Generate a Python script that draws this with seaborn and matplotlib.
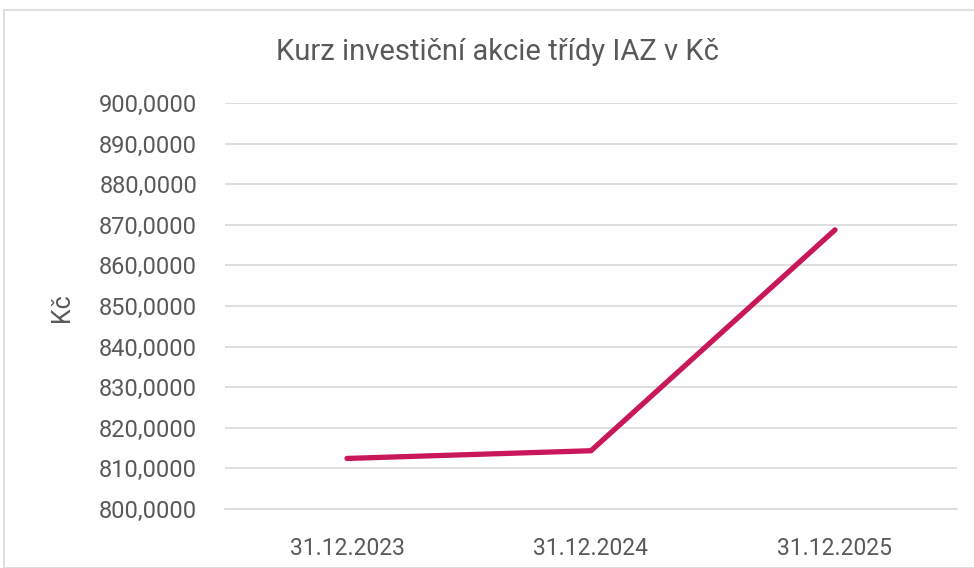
import pandas as pd
import seaborn as sns
import matplotlib.pyplot as plt
from matplotlib.patches import Rectangle

dates = ["31.12.2023", "31.12.2024", "31.12.2025"]
prices = [812.45, 814.35, 868.75]

df = pd.DataFrame({"datum": dates, "kurz": prices})

sns.set_theme(style="white")
plt.rcParams['font.family'] = ['Roboto', 'DejaVu Sans']

text_col = "#595959"
grid_col = "#d9d9d9"

fig = plt.figure(figsize=(9.74, 5.68), dpi=100)
ax = fig.add_axes([225 / 974, 1 - 509 / 568, (957 - 225) / 974, (509 - 103) / 568])

sns.lineplot(data=df, x="datum", y="kurz", ax=ax, color="#c8175a",
             linewidth=3.8, solid_capstyle="round", solid_joinstyle="miter", sort=False)

ax.set_ylim(800, 900)
ax.set_yticks(range(800, 901, 10))
ax.set_yticklabels([f"{v},0000" for v in range(800, 901, 10)])
ax.set_xlim(-0.5, 2.5)
ax.set_xticks([-0.5, 0.5, 1.5, 2.5], minor=True)
ax.tick_params(axis="x", which="minor", length=8, width=1.2, color=grid_col, direction="out")
ax.tick_params(axis="x", which="major", length=0, pad=20, labelsize=16.5, labelcolor=text_col)
ax.tick_params(axis="y", length=0, pad=20, labelsize=17, labelcolor=text_col)
for lab in ax.get_yticklabels():
    lab.set_horizontalalignment("right")

ax.grid(axis="y", color=grid_col, linewidth=1.2)
ax.set_axisbelow(True)
for side in ["top", "right", "left"]:
    ax.spines[side].set_visible(False)
ax.spines["bottom"].set_color(grid_col)
ax.spines["bottom"].set_linewidth(1.2)

ax.set_xlabel("")
ax.set_ylabel("")
fig.text(62 / 974, 1 - 308 / 568, "Kč", rotation=90, ha="center", va="center",
         fontsize=18, color=text_col)
fig.text(497 / 974, 1 - 52 / 568, "Kurz investiční akcie třídy IAZ v Kč",
         ha="center", va="center", fontsize=21, color=text_col)

fig.patches.append(Rectangle((4 / 974, 0), 1.2, 1 - 10 / 568, transform=fig.transFigure,
                             fill=False, edgecolor=grid_col, linewidth=1.2))

fig.savefig("out.png", dpi=100)
